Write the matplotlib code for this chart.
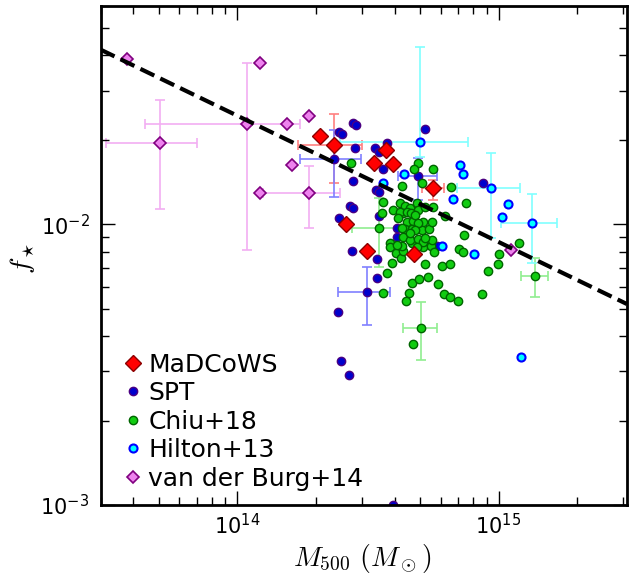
import numpy as np
import matplotlib
matplotlib.use('Agg')
import matplotlib.pyplot as plt
from matplotlib.ticker import NullFormatter

# values are log10(M500 / Msun) and log10(f_star)

# MaDCoWS
mad_logm = [14.316, 14.371, 14.569, 14.523, 14.597, 14.748, 14.416, 14.495, 14.676]
mad_logf = [-1.685, -1.716, -1.735, -1.783, -1.784, -1.870, -2.000, -2.095, -2.107]
mad_err_idx = [1, 5]
mad_m_lo = [14.232, 14.706]
mad_m_hi = [14.478, 14.791]
mad_f_lo = [-1.854, -1.913]
mad_f_hi = [-1.608, -1.842]

# SPT
spt_logm = [14.442, 14.453, 14.390, 14.402, 14.719, 14.450, 14.528, 14.541, 14.572, 14.371,
            14.559, 14.693, 14.444, 14.531, 14.541, 14.431, 14.442, 14.389, 14.543, 14.610,
            14.610, 14.438, 14.536, 14.536, 14.498, 14.387, 14.397, 14.429, 14.596, 14.941,
            14.764]
spt_logf = [-1.637, -1.647, -1.670, -1.679, -1.661, -1.728, -1.729, -1.742, -1.711, -1.768,
            -1.801, -1.828, -1.845, -1.878, -1.884, -1.935, -1.941, -1.976, -1.970, -2.012,
            -2.044, -2.095, -2.125, -2.190, -2.242, -2.313, -2.487, -2.536, -3.000, -1.854,
            -2.076]
spt_err_idx = [9, 11, 24]
spt_m_lo = [14.240, 14.615, 14.387]
spt_m_hi = [14.473, 14.763, 14.584]
spt_f_lo = [-1.902, -1.913, -2.359]
spt_f_hi = [-1.664, -1.764, -2.151]

# Chiu+18
chiu_logm = [14.434, 14.693, 14.677, 14.750, 14.629, 14.820, 14.706, 14.559, 14.874, 14.553,
             14.795, 14.543, 14.868, 14.850, 14.865, 15.078, 15.003, 14.997, 14.961, 14.938,
             15.139, 14.718, 14.782, 14.814, 14.572, 14.667, 14.697, 14.729, 14.769, 14.559,
             14.658, 14.644, 14.791, 14.814, 14.846, 14.703, 14.671, 14.584, 14.584, 14.607,
             14.626, 14.633, 14.591, 14.667, 14.706, 14.712, 14.741, 14.754, 14.597, 14.623,
             14.642, 14.635, 14.661, 14.687, 14.690, 14.718, 14.748, 14.648, 14.674, 14.642,
             14.667, 14.712, 14.706, 14.735, 14.744, 14.635, 14.661, 14.693, 14.712, 14.744,
             14.629, 14.687, 14.623, 14.648, 14.665, 14.680, 14.616, 14.693, 14.629, 14.680,
             14.661, 14.718, 14.610]
chiu_logf = [-1.783, -1.781, -1.804, -1.802, -1.864, -1.867, -1.854, -1.920, -1.925, -1.959,
             -1.969, -2.012, -2.038, -2.089, -2.100, -2.066, -2.107, -2.141, -2.166, -2.248,
             -2.183, -2.142, -2.149, -2.141, -2.175, -2.208, -2.196, -2.187, -2.213, -2.244,
             -2.246, -2.273, -2.248, -2.258, -2.273, -2.368, -2.427, -2.066, -2.082, -2.103,
             -2.121, -2.094, -2.139, -2.066, -2.066, -2.082, -2.077, -2.099, -1.949, -1.923,
             -1.935, -1.961, -1.943, -1.925, -1.947, -1.937, -1.937, -1.991, -1.988, -2.018,
             -2.018, -1.991, -2.020, -2.018, -1.991, -2.044, -2.056, -2.052, -2.062, -2.056,
             -2.077, -2.080, -1.955, -1.955, -1.961, -1.967, -1.979, -1.996, -2.014, -2.020,
             -2.032, -2.048, -2.074]
chiu_err_idx = [11, 20, 35]
chiu_m_lo = [14.438, 15.085, 14.635]
chiu_m_hi = [14.627, 15.190, 14.763]
chiu_f_lo = [-2.151, -2.258, -2.483]
chiu_f_hi = [-1.907, -2.121, -2.276]

# Hilton+13
hil_logm = [14.699, 14.852, 14.865, 14.970, 15.035, 15.012, 15.127, 14.824, 14.782, 14.906,
            14.559, 14.639, 15.086]
hil_logf = [-1.708, -1.789, -1.821, -1.872, -1.929, -1.974, -1.996, -1.910, -2.076, -2.107,
            -1.853, -1.821, -2.474]
hil_err_idx = [0, 3, 6]
hil_m_lo = [14.393, 14.840, 15.009]
hil_m_hi = [14.884, 15.082, 15.222]
hil_f_lo = [-1.760, -2.050, -2.139]
hil_f_hi = [-1.368, -1.747, -1.890]

# van der Burg+14
vdb_logm = [13.577, 14.087, 13.704, 14.038, 14.191, 14.273, 14.208, 14.088, 14.273, 15.047]
vdb_logf = [-1.409, -1.426, -1.709, -1.643, -1.643, -1.613, -1.788, -1.887, -1.887, -2.092]
vdb_err_idx = [2, 3, 8]
vdb_m_lo = [13.498, 13.647, 14.100]
vdb_m_hi = [13.847, 14.240, 14.393]
vdb_f_lo = [-1.945, -2.092, -2.012]
vdb_f_hi = [-1.557, -1.426, -1.791]

# power-law fit: f = fit_norm * (M / 1e14)**fit_slope
fit_norm = 0.0244
fit_slope = -0.45

plt.rcParams['mathtext.fontset'] = 'cm'
plt.rcParams['xtick.direction'] = 'in'
plt.rcParams['ytick.direction'] = 'in'
plt.rcParams['xtick.top'] = True
plt.rcParams['ytick.right'] = True

fig = plt.figure(figsize=(6.41, 5.74), dpi=100)
ax = fig.add_axes([0.157, 0.1202, 0.821, 0.8693])


def points(logm, logf, **kw):
    return ax.plot(10 ** np.array(logm), 10 ** np.array(logf), ls='none', **kw)[0]


def bars(logm, logf, idx, m_lo, m_hi, f_lo, f_hi, color):
    m = 10 ** np.array(logm)[idx]
    f = 10 ** np.array(logf)[idx]
    xerr = [m - 10 ** np.array(m_lo), 10 ** np.array(m_hi) - m]
    yerr = [f - 10 ** np.array(f_lo), 10 ** np.array(f_hi) - f]
    ax.errorbar(m, f, xerr=xerr, yerr=yerr, fmt='none', ecolor=color,
                elinewidth=1.2, capsize=3.5, capthick=1.2, zorder=1)


bars(vdb_logm, vdb_logf, vdb_err_idx, vdb_m_lo, vdb_m_hi, vdb_f_lo, vdb_f_hi, '#F2AEF2')
bars(mad_logm, mad_logf, mad_err_idx, mad_m_lo, mad_m_hi, mad_f_lo, mad_f_hi, '#FF8080')
bars(spt_logm, spt_logf, spt_err_idx, spt_m_lo, spt_m_hi, spt_f_lo, spt_f_hi, '#8080FF')
bars(chiu_logm, chiu_logf, chiu_err_idx, chiu_m_lo, chiu_m_hi, chiu_f_lo, chiu_f_hi, '#90EE90')
bars(hil_logm, hil_logf, hil_err_idx, hil_m_lo, hil_m_hi, hil_f_lo, hil_f_hi, '#80FFFF')

h_spt = points(spt_logm, spt_logf, marker='o', ms=6, mfc='#0000CD', mec='#4B0082',
               mew=1, zorder=2, label='SPT')
h_chiu = points(chiu_logm, chiu_logf, marker='o', ms=6, mfc='#11CC11', mec='#006400',
                mew=1, zorder=3, label='Chiu+18')
h_hil = points(hil_logm, hil_logf, marker='o', ms=5.8, mfc='#00FFFF', mec='#0000FF',
               mew=1.5, zorder=4, label='Hilton+13')
h_vdb = points(vdb_logm, vdb_logf, marker='D', ms=6, mfc='#EE82EE', mec='#800080',
               mew=1.2, zorder=5, label='van der Burg+14')
h_mad = points(mad_logm, mad_logf, marker='D', ms=8.4, mfc='#FF0000', mec='#8B0000',
               mew=1, zorder=6, label='MaDCoWS')

mgrid = np.array([3e13, 3.1e15])
ax.plot(mgrid, fit_norm * (mgrid / 1e14) ** fit_slope, 'k--', lw=3, zorder=7)

ax.set_xscale('log')
ax.set_yscale('log')
ax.set_xlim(3e13, 3.1e15)
ax.set_ylim(1e-3, 6e-2)
ax.xaxis.set_minor_formatter(NullFormatter())
ax.yaxis.set_minor_formatter(NullFormatter())

for s in ax.spines.values():
    s.set_linewidth(2)
ax.tick_params(which='major', length=10, width=1, labelsize=15)
ax.tick_params(which='minor', length=5.5, width=1)
ax.tick_params(axis='x', which='major', pad=6)
ax.tick_params(axis='y', which='major', pad=8)

ax.set_xlabel(r'$M_{500}$ $(M_\odot)$', fontsize=20)
ax.set_ylabel(r'$f_\star$', fontsize=20)
ax.xaxis.set_label_coords(0.496, -0.075)
ax.yaxis.set_label_coords(-0.121, 0.495)

ax.legend(handles=[h_mad, h_spt, h_chiu, h_hil, h_vdb], loc='lower left',
          bbox_to_anchor=(0.038, 0.029), frameon=False, fontsize=18, numpoints=1,
          handlelength=1.0, handletextpad=0.1, labelspacing=0.18,
          borderpad=0, borderaxespad=0)

fig.savefig('out.png', dpi=100)
